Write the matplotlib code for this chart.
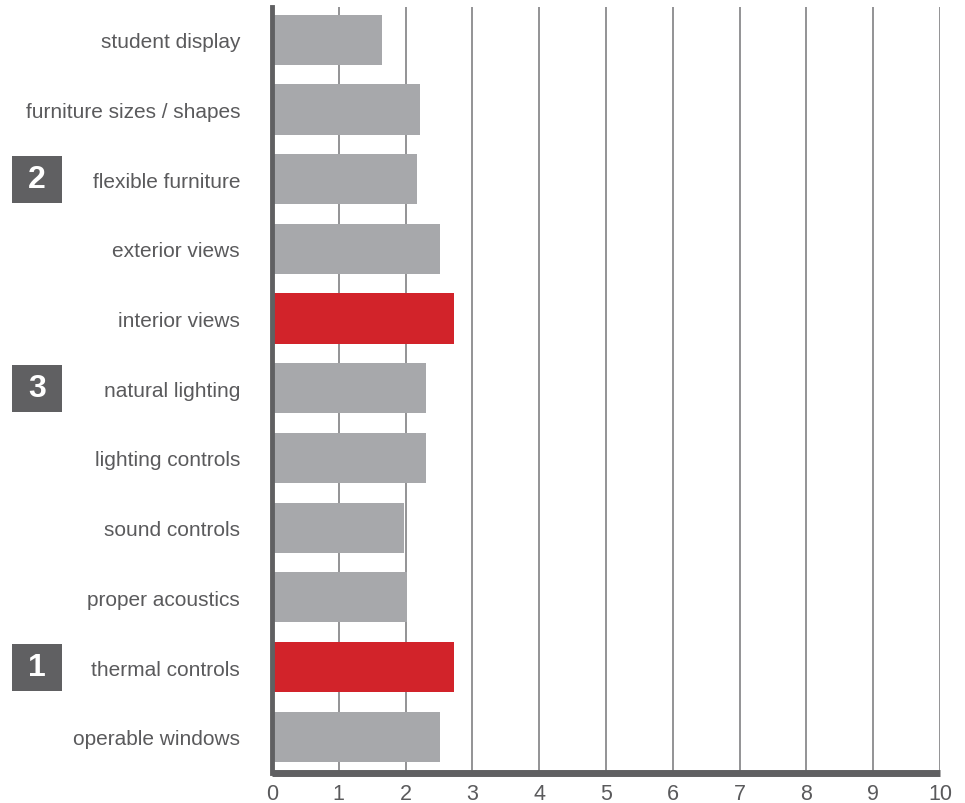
import matplotlib
matplotlib.use("Agg")
import matplotlib.pyplot as plt
from matplotlib.patches import Rectangle

# Survey factors, listed bottom to top
categories = [
    "operable windows", "thermal controls", "proper acoustics", "sound controls",
    "lighting controls", "natural lighting", "interior views", "exterior views",
    "flexible furniture", "furniture sizes / shapes", "student display",
]
values = [2.51, 2.72, 2.02, 1.98, 2.3, 2.3, 2.72, 2.51, 2.17, 2.22, 1.65]
highlighted = ["thermal controls", "interior views"]
badges = {"thermal controls": "1", "flexible furniture": "2", "natural lighting": "3"}
x_ticks = list(range(0, 11))

GREY = "#a7a8ab"
RED = "#d2232a"
TEXT = "#5a5a5c"
DARK = "#606062"

plt.rcParams["font.family"] = ["Liberation Sans", "DejaVu Sans"]

fig = plt.figure(figsize=(9.65, 8.04), dpi=100)
ax = fig.add_axes([272 / 965, 1 - 774 / 804, 668 / 965, 766 / 804])

ypos = list(range(len(categories)))
colors = [RED if c in highlighted else GREY for c in categories]
ax.barh(ypos, values, height=0.72, color=colors, zorder=2)

ax.set_xlim(0, 10)
ax.set_ylim(-0.52, len(categories) - 0.53)

for x in x_ticks[1:]:
    ax.axvline(x, color="#8a8a8c", lw=1.3, zorder=1)

for s in ["top", "right"]:
    ax.spines[s].set_visible(False)
ax.spines["left"].set_color(DARK)
ax.spines["left"].set_linewidth(3.5)
ax.spines["left"].set_zorder(3)
ax.spines["bottom"].set_color(DARK)
ax.spines["bottom"].set_linewidth(5)
ax.spines["bottom"].set_capstyle("butt")
ax.spines["bottom"].set_zorder(3)

ax.set_xticks(x_ticks)
ax.set_xticklabels([str(t) for t in x_ticks], fontsize=15.5, color=TEXT)
ax.tick_params(axis="x", length=0, pad=7)
ax.set_yticks(ypos)
ax.set_yticklabels(categories, fontsize=15, color=TEXT)
ax.tick_params(axis="y", length=0, pad=23)

# Numbered badges beside ranked categories
for cat, num in badges.items():
    i = categories.index(cat)
    yc = ax.transData.transform((0, i))[1]
    h_px, w_px = 47, 50
    x0 = 12 / 965
    y0 = (yc - h_px / 2) / 804
    fig.patches.append(Rectangle((x0, y0), w_px / 965, h_px / 804,
                                 transform=fig.transFigure, facecolor=DARK,
                                 edgecolor="none"))
    fig.text(x0 + w_px / 965 / 2, yc / 804, num, ha="center", va="center",
             color="white", fontsize=23, fontweight="bold",
             family=["Liberation Sans", "DejaVu Sans"])

fig.savefig("out.png", dpi=100)
